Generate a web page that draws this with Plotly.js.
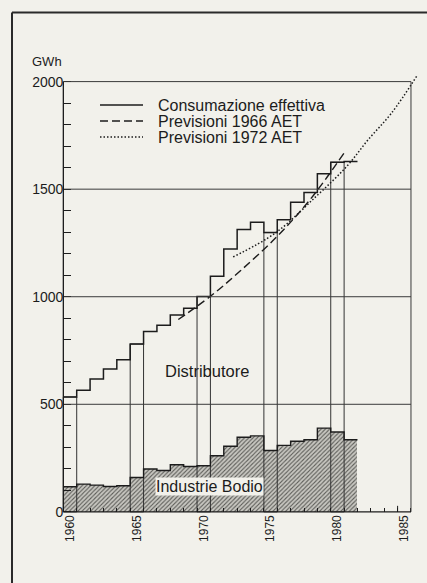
<!DOCTYPE html>
<html>
<head>
<meta charset="utf-8">
<script src="https://cdn.plot.ly/plotly-3.0.1.min.js"></script>
<style>
  html, body { margin: 0; padding: 0; background: #f2f1eb; }
  #chart { width: 427px; height: 583px; }
</style>
</head>
<body>
<div id="chart"></div>
<script>
// ---- data ----
const years = [1960,1961,1962,1963,1964,1965,1966,1967,1968,1969,1970,1971,1972,1973,1974,1975,1976,1977,1978,1979,1980,1981];
const consumoTotale = [534,565,617,664,707,780,838,867,915,947,1001,1095,1222,1312,1346,1298,1358,1439,1485,1572,1625,1629];
const industrieBodio = [117,129,124,118,121,160,199,192,219,211,214,261,305,347,353,285,309,328,335,389,371,335];
const boxedYears = [1960,1965,1970,1975,1980];
const prev1966x = [1968.6,1971.0,1973.2,1976.0,1978.5,1981.0];
const prev1966y = [894,1002,1118,1281,1455,1668];
const prev1972x = [1972.7,1975.85,1978.9,1981.2,1982.8,1984.55,1986.5];
const prev1972y = [1185,1296,1466,1606,1730,1854,2032];
const tickYears = [1960,1965,1970,1975,1980,1985];
const yTicks = [0,500,1000,1500,2000];
const seriesNames = ['Consumazione effettiva','Previsioni 1966 AET','Previsioni 1972 AET'];

const ink = '#1c1c1c';
const paper = '#f2f1eb';
const font = 'Liberation Sans, Arial, sans-serif';
const dashes = ['solid','8px,4px','1.5px,2px'];
const widths = [1.5,1.4,1.5];

const stepX = years.concat([years[years.length-1]+1]);
const stepTotal = consumoTotale.concat([consumoTotale[consumoTotale.length-1]]);
const stepBodio = industrieBodio.concat([industrieBodio[industrieBodio.length-1]]);

const traces = [
  { type:'bar', x: years.map(y=>y+0.5), y: industrieBodio, width: 1,
    marker:{ color:'#bdbcb7', pattern:{shape:'/', fgcolor:'#5c5c58', bgcolor:'#c8c7c1', size:3, solidity:0.35}, line:{width:0} },
    hoverinfo:'skip' },
  { type:'scatter', mode:'lines', x: stepX, y: stepBodio, line:{shape:'hv', color:ink, width:1.4}, hoverinfo:'skip' },
  { type:'bar', x: boxedYears.map(y=>y+0.5), y: boxedYears.map(y=>consumoTotale[years.indexOf(y)]), width: 1,
    marker:{ color:'rgba(0,0,0,0)', line:{color:'#333', width:1} }, hoverinfo:'skip' },
  { type:'scatter', mode:'lines', name:seriesNames[0], x: stepX, y: stepTotal,
    line:{shape:'hv', color:ink, width:widths[0]} },
  { type:'scatter', mode:'lines', name:seriesNames[1], x: prev1966x, y: prev1966y,
    line:{shape:'spline', color:ink, width:widths[1], dash:dashes[1]} },
  { type:'scatter', mode:'lines', name:seriesNames[2], x: prev1972x, y: prev1972y,
    line:{shape:'spline', color:ink, width:widths[2], dash:dashes[2]} }
];

const shapes = [];
[500,1000,1500,2000].forEach(v => shapes.push({type:'line', xref:'x', yref:'y', x0:1960, x1:1986, y0:v, y1:v, line:{color:'#3a3a3a', width:1}}));
shapes.push({type:'line', xref:'x', yref:'y', x0:1986, x1:1986, y0:0, y1:2000, line:{color:'#3a3a3a', width:1}});
shapes.push({type:'line', xref:'x', yref:'y', x0:1960, x1:1960, y0:0, y1:2000, line:{color:ink, width:1.3}});
shapes.push({type:'line', xref:'x', yref:'y', x0:1960, x1:1986, y0:0, y1:0, line:{color:ink, width:1.3}});
shapes.push({type:'line', xref:'x', yref:'y', x0:1985, x1:1985, y0:0, y1:28, line:{color:ink, width:1}});
// page frame
shapes.push({type:'line', xref:'paper', yref:'paper', x0:-0.1385, x1:-0.1385, y0:1.137, y1:-0.17, line:{color:'#2a2a2a', width:2}});
shapes.push({type:'line', xref:'paper', yref:'paper', x0:-0.1385, x1:1.02, y0:1.137, y1:1.137, line:{color:'#2a2a2a', width:2}});

// hand-placed legend (plot is 361 x 441 px, left 62, bottom 514)
const px2x = px => (px - 62) / 361;
const px2y = py => (514 - py) / 441;
const legendRows = [105, 121, 137];
const annotations = [
  {xref:'paper', yref:'paper', x:px2x(46.5), y:px2y(62), xanchor:'center', yanchor:'middle', text:'GWh', showarrow:false, font:{family:font, size:13, color:ink}},
  {xref:'x', yref:'y', x:1970.75, y:655, text:'Distributore', showarrow:false, font:{family:font, size:16.5, color:ink}},
  {xref:'x', yref:'y', x:1970.95, y:119, text:'Industrie Bodio', showarrow:false, bgcolor:paper, borderpad:0,
   font:{family:font, size:16, color:ink}}
];
seriesNames.forEach((n, i) => {
  shapes.push({type:'line', xref:'paper', yref:'paper', x0:px2x(100), x1:px2x(143), y0:px2y(legendRows[i]), y1:px2y(legendRows[i]),
               line:{color:ink, width:widths[i], dash:dashes[i]}});
  annotations.push({xref:'paper', yref:'paper', x:px2x(156), y:px2y(legendRows[i]), xanchor:'left', yanchor:'middle',
                    text:n, showarrow:false, font:{family:font, size:16, color:ink}});
});

const layout = {
  width:427, height:583,
  margin:{l:62, r:4, t:73, b:69},
  paper_bgcolor:paper, plot_bgcolor:'rgba(0,0,0,0)',
  font:{family:font, color:ink},
  barmode:'overlay', bargap:0,
  showlegend:false,
  xaxis:{range:[1959.9,1986.9], anchor:'free', position:10/2050, showgrid:false, zeroline:false, showline:false,
         tickmode:'array', tickvals: tickYears.map(y=>y+0.5), ticktext: tickYears.map(String),
         tickangle:-90, ticks:'', tickfont:{family:font, size:12, color:ink},
         minor:{tickmode:'linear', tick0:1960, dtick:1, ticks:'inside', ticklen:4, tickcolor:ink, tickwidth:1, showgrid:false}},
  yaxis:{range:[-10,2040], anchor:'free', position:0.1/27, showgrid:false, zeroline:false, showline:false,
         tickmode:'array', tickvals:yTicks, ticktext:yTicks.map(String), ticks:'inside', ticklen:7, tickcolor:ink,
         tickfont:{family:font, size:14, color:ink},
         minor:{tickmode:'linear', tick0:0, dtick:100, ticks:'inside', ticklen:7, tickcolor:ink, tickwidth:1, showgrid:false}},
  shapes: shapes,
  annotations: annotations
};

Plotly.newPlot('chart', traces, layout, {displayModeBar:false, staticPlot:true});
</script>
</body>
</html>
